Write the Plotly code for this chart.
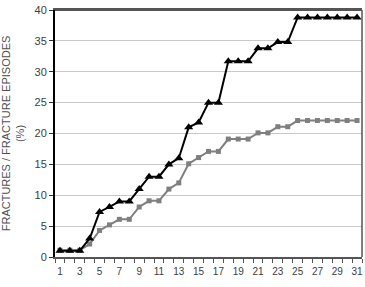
import plotly.graph_objects as go

days = list(range(1, 32))
fracture_episodes = [1, 1, 1, 3, 7.3, 8.1, 9, 9, 11, 13, 13, 15, 16, 21, 21.8, 25, 25,
                     31.7, 31.7, 31.7, 33.8, 33.8, 34.8, 34.8, 38.8, 38.8, 38.8, 38.8, 38.8, 38.8, 38.8]
fractures = [1.1, 1.1, 1.1, 2.1, 4.3, 5.2, 6.1, 6.1, 8.1, 9.1, 9.1, 11, 12, 15.1, 16.1, 17.1, 17.1,
             19.1, 19.1, 19.1, 20.1, 20.1, 21.1, 21.1, 22.1, 22.1, 22.1, 22.1, 22.1, 22.1, 22.1]
xtick_vals = list(range(1, 32, 2))
xtick_text = [str(v) for v in xtick_vals]
ytick_vals = list(range(0, 41, 5))

fig = go.Figure()
fig.add_trace(go.Scatter(x=days, y=fractures, mode="lines+markers",
                         line=dict(color="#7f7f7f", width=2),
                         marker=dict(symbol="square", size=5, color="#7f7f7f")))
fig.add_trace(go.Scatter(x=days, y=fracture_episodes, mode="lines+markers",
                         line=dict(color="#000000", width=2),
                         marker=dict(symbol="triangle-up", size=8, color="#000000")))

fig.update_layout(
    width=365, height=287,
    margin=dict(l=55, r=3, t=10, b=30),
    paper_bgcolor="white", plot_bgcolor="white",
    showlegend=False,
    font=dict(family="Liberation Sans, Arial, sans-serif", size=11, color="#404040"),
    xaxis=dict(range=[0.5, 31.5], tickvals=xtick_vals, ticktext=xtick_text,
               ticks="", showgrid=False, zeroline=False,
               showline=True, linecolor="#555555", linewidth=1.5, mirror=True,
               minor=dict(ticks="outside", tick0=0.5, dtick=1, ticklen=4,
                          tickcolor="#555555", showgrid=False),
               ticklabelstandoff=4,
               tickfont=dict(size=10)),
    yaxis=dict(range=[0, 40], tickvals=ytick_vals, ticks="outside", ticklen=4,
               tickcolor="#333333", showgrid=True, gridcolor="#c8c8c8", gridwidth=1,
               zeroline=False, showline=True, linecolor="#000000", linewidth=2,
               tickfont=dict(size=11),
               title=dict(text="FRACTURES / FRACTURE EPISODES<br>(%)",
                          font=dict(size=11, color="#505050"), standoff=8)),
    shapes=[dict(type="line", xref="paper", yref="paper", x0=1, x1=1, y0=0, y1=1,
                 line=dict(color="#555555", width=1.5)),
            dict(type="line", xref="paper", yref="paper", x0=0, x1=1, y0=1, y1=1,
                 line=dict(color="#555555", width=2))],
)

fig.write_html("out.html")
